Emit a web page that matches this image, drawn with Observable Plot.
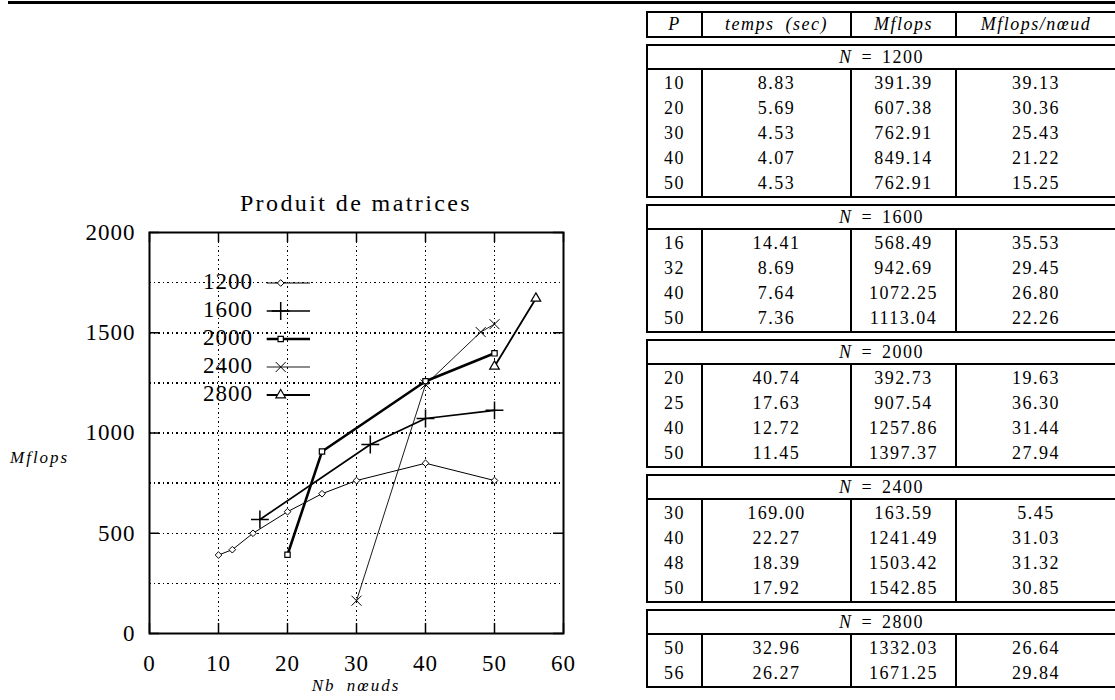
<!DOCTYPE html>
<html>
<head>
<meta charset="utf-8">
<script src="https://cdn.jsdelivr.net/npm/d3@7"></script>
<script src="https://cdn.jsdelivr.net/npm/@observablehq/plot@0.6"></script>
<style>
  * { box-sizing: border-box; }
  html, body { margin: 0; padding: 0; background: #fff; }
  body { width: 1115px; height: 700px; overflow: hidden; position: relative;
         font-family: "Liberation Serif", "Times New Roman", serif; color: #000; }
  #rule { position: absolute; left: 8px; right: 0; top: 1px; height: 3px; background: #000; }
  #title { position: absolute; left: 149px; width: 414px; top: 191px; text-align: center;
           font-size: 24px; line-height: 24px; letter-spacing: 2.4px; white-space: nowrap; }
  #chart { position: absolute; left: 0; top: 180px; }
  #chart svg text { letter-spacing: 1px; }
  .lg-label { position: absolute; left: 140px; width: 113px; text-align: right;
              font-size: 23px; line-height: 26px; letter-spacing: 1px; }
  .lg-svg { position: absolute; left: 262px; }
  #ylabel { position: absolute; left: 10px; top: 449px; font-size: 17px; line-height: 17px;
            font-style: italic; letter-spacing: 2px; white-space: nowrap; }
  #xlabel { position: absolute; left: 149px; width: 414px; text-align: center; top: 677px;
            font-size: 17px; line-height: 17px; font-style: italic; letter-spacing: 2px;
            word-spacing: 5px; white-space: nowrap; }
  .blk { position: absolute; left: 646px; width: 471px; border: 2px solid #000; }
  .cols { display: grid; grid-template-columns: 53px 149px 105px 1fr; }
  .cols > div { text-align: center; font-size: 18px; line-height: 25px; letter-spacing: 1.5px;
                padding-top: 1px; white-space: nowrap; }
  .cols > div + div { border-left: 2px solid #000; }
  .hdr > div { line-height: 23px; padding-top: 0; font-style: italic; word-spacing: 5px; }
  .nrow { height: 24px; line-height: 22px; text-align: center; border-bottom: 2px solid #000;
          font-size: 18px; letter-spacing: 1.5px; word-spacing: 3px; white-space: nowrap; }
</style>
</head>
<body>
<div id="rule"></div>
<div id="title">Produit de matrices</div>
<div id="chart"></div>
<div id="legend"></div>
<div id="ylabel">Mflops</div>
<div id="xlabel">Nb nœuds</div>
<div id="table"></div>
<script>
// ---------- Plot data (Mflops vs number of nodes) ----------
const seriesLabels = ["1200", "1600", "2000", "2400", "2800"];
const x1200 = [10, 12, 15, 20, 25, 30, 40, 50];
const y1200 = [391.39, 418, 500, 607.38, 697, 762.91, 849.14, 762.91];
const x1600 = [16, 32, 40, 50];
const y1600 = [568.49, 942.69, 1072.25, 1113.04];
const x2000 = [20, 25, 40, 50];
const y2000 = [392.73, 907.54, 1257.86, 1397.37];
const x2400 = [30, 40, 48, 50];
const y2400 = [163.59, 1241.49, 1503.42, 1542.85];
const x2800 = [50, 56];
const y2800 = [1332.03, 1671.25];

const xTicks = [0, 10, 20, 30, 40, 50, 60];
const yTicks = [0, 500, 1000, 1500, 2000];
const xGrid = [10, 20, 30, 40, 50];
const yGrid = [250, 500, 750, 1000, 1250, 1500, 1750];

// ---------- Table data ----------
const tableHeader = ["P", "temps (sec)", "Mflops", "Mflops/nœud"];
const tableN = [1200, 1600, 2000, 2400, 2800];
const P1200 = [10, 20, 30, 40, 50];
const T1200 = [8.83, 5.69, 4.53, 4.07, 4.53];
const M1200 = [391.39, 607.38, 762.91, 849.14, 762.91];
const R1200 = [39.13, 30.36, 25.43, 21.22, 15.25];
const P1600 = [16, 32, 40, 50];
const T1600 = [14.41, 8.69, 7.64, 7.36];
const M1600 = [568.49, 942.69, 1072.25, 1113.04];
const R1600 = [35.53, 29.45, 26.80, 22.26];
const P2000 = [20, 25, 40, 50];
const T2000 = [40.74, 17.63, 12.72, 11.45];
const M2000 = [392.73, 907.54, 1257.86, 1397.37];
const R2000 = [19.63, 36.30, 31.44, 27.94];
const P2400 = [30, 40, 48, 50];
const T2400 = [169.00, 22.27, 18.39, 17.92];
const M2400 = [163.59, 1241.49, 1503.42, 1542.85];
const R2400 = [5.45, 31.03, 31.32, 30.85];
const P2800 = [50, 56];
const T2800 = [32.96, 26.27];
const M2800 = [1332.03, 1671.25];
const R2800 = [26.64, 29.84];

// ---------- Build plot ----------
const FONT = '"Liberation Serif", "Times New Roman", serif';
const zip = (xs, ys) => xs.map((x, i) => ({x, y: ys[i]}));
const series = [
  {label: seriesLabels[0], data: zip(x1200, y1200), symbol: "diamond2", r: 3, fill: "white", width: 1, sw: 1},
  {label: seriesLabels[1], data: zip(x1600, y1600), symbol: "plus", r: 5.8, fill: "none", width: 1.7, sw: 1.5},
  {label: seriesLabels[2], data: zip(x2000, y2000), symbol: "square2", r: 3.4, fill: "white", width: 2.6, sw: 1.2},
  {label: seriesLabels[3], data: zip(x2400, y2400), symbol: "times", r: 4.6, fill: "none", width: 0.9, sw: 1},
  {label: seriesLabels[4], data: zip(x2800, y2800), symbol: "triangle2", r: 4.6, fill: "white", width: 1.8, sw: 1.2}
];

const W = 600, H = 520, ML = 149, MR = 37, MT = 52, MB = 67;
const PW = W - ML - MR, PH = H - MT - MB, TICK = 10;
const grid = {stroke: "black", strokeWidth: 1.5, strokeDasharray: "1.5,3", shapeRendering: "crispEdges"};

const chart = Plot.plot({
  width: W, height: H,
  marginLeft: ML, marginRight: MR, marginTop: MT, marginBottom: MB,
  x: {domain: [0, 60]},
  y: {domain: [0, 2000]},
  style: {fontFamily: FONT, fontSize: "23px", color: "black", background: "transparent", overflow: "visible"},
  marks: [
    Plot.ruleY(yGrid, grid),
    Plot.ruleX(xGrid, grid),
    Plot.tickY(yTicks, {y: d => d, insetRight: PW - TICK, strokeWidth: 1.5}),
    Plot.tickY(yTicks, {y: d => d, insetLeft: PW - TICK, strokeWidth: 1.5}),
    Plot.tickX(xTicks, {x: d => d, insetBottom: PH - TICK, strokeWidth: 1.5}),
    Plot.tickX(xTicks, {x: d => d, insetTop: PH - TICK, strokeWidth: 1.5}),
    Plot.axisX(xTicks, {tickSize: 0, tickPadding: 21, tickFormat: "d", label: null}),
    Plot.axisY(yTicks, {tickSize: 0, tickPadding: 14, tickFormat: "d", label: null}),
    ...series.map(s => Plot.line(s.data, {x: "x", y: "y", stroke: "black", strokeWidth: s.width})),
    ...series.map(s => Plot.dot(s.data, {x: "x", y: "y", symbol: s.symbol, r: s.r, stroke: "black",
                                         fill: s.fill, strokeWidth: s.sw})),
    Plot.frame({stroke: "black", strokeWidth: 2})
  ]
});
document.getElementById("chart").append(chart);

// ---------- Legend (inside plot, top-left) ----------
const symMap = {diamond2: d3.symbolDiamond2, plus: d3.symbolPlus, square2: d3.symbolSquare2,
                times: d3.symbolTimes, triangle2: d3.symbolTriangle2};
const legend = document.getElementById("legend");
const LG_TOP = 283, LG_STEP = 28;
series.forEach((s, i) => {
  const cy = LG_TOP + LG_STEP * i;
  const lab = document.createElement("div");
  lab.className = "lg-label";
  lab.style.top = (cy - 14) + "px";
  lab.textContent = s.label;
  legend.append(lab);
  const svg = d3.create("svg").attr("class", "lg-svg").attr("width", 52).attr("height", 20)
    .style("top", (cy - 10) + "px");
  svg.append("line").attr("x1", 4.7).attr("x2", 48).attr("y1", 10).attr("y2", 10)
    .attr("stroke", "black").attr("stroke-width", s.width);
  svg.append("path").attr("d", d3.symbol(symMap[s.symbol], Math.PI * s.r * s.r)())
    .attr("transform", "translate(18.7,10)")
    .attr("fill", s.fill).attr("stroke", "black").attr("stroke-width", s.sw);
  legend.append(svg.node());
});

// ---------- Table ----------
const tableEl = document.getElementById("table");
const groups = [
  {N: tableN[0], P: P1200, T: T1200, M: M1200, R: R1200},
  {N: tableN[1], P: P1600, T: T1600, M: M1600, R: R1600},
  {N: tableN[2], P: P2000, T: T2000, M: M2000, R: R2000},
  {N: tableN[3], P: P2400, T: T2400, M: M2400, R: R2400},
  {N: tableN[4], P: P2800, T: T2800, M: M2800, R: R2800}
];

const hdr = document.createElement("div");
hdr.className = "blk";
hdr.style.top = "11px";
hdr.style.height = "27px";
const hcols = document.createElement("div");
hcols.className = "cols hdr";
tableHeader.forEach(h => {
  const c = document.createElement("div");
  c.textContent = h;
  hcols.append(c);
});
hdr.append(hcols);
tableEl.append(hdr);

let blockTop = 44;
groups.forEach(g => {
  const n = g.P.length;
  const blk = document.createElement("div");
  blk.className = "blk";
  blk.style.top = blockTop + "px";
  blk.style.height = (29 + 25 * n) + "px";
  const nrow = document.createElement("div");
  nrow.className = "nrow";
  nrow.innerHTML = "<i>N</i> = " + g.N;
  blk.append(nrow);
  const cols = document.createElement("div");
  cols.className = "cols";
  [g.P.map(String), g.T.map(v => v.toFixed(2)), g.M.map(v => v.toFixed(2)), g.R.map(v => v.toFixed(2))]
    .forEach(vals => {
      const c = document.createElement("div");
      c.innerHTML = vals.join("<br>");
      cols.append(c);
    });
  blk.append(cols);
  tableEl.append(blk);
  blockTop += 29 + 25 * n + 6;
});
</script>
</body>
</html>
